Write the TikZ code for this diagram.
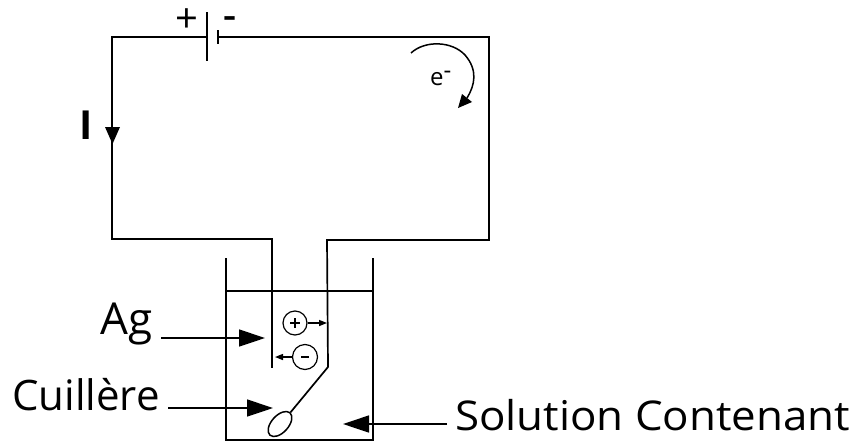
\documentclass[tikz,border=0pt]{standalone}
\usepackage{fontspec}
\setmainfont{Open Sans}
\usetikzlibrary{arrows.meta,shapes.geometric}
\tikzset{
  wire/.style={line width=1.7pt,black,line join=miter},
  plate/.style={line width=1.9pt,black},
  lbl/.style={inner sep=0pt,anchor=base west,text=black},
  big/.style={-{Triangle[length=26pt,width=17pt]},line width=1.4pt},
  small/.style={-{Triangle[length=8pt,width=6pt]},line width=1.4pt},
  ion/.style={circle,draw,line width=1.2pt,inner sep=0pt}
}
\begin{document}
\begin{tikzpicture}[x=1pt,y=-1pt]
\useasboundingbox (0,0) rectangle (858,442);
% circuit
\coordinate (tl) at (112,37);
\coordinate (pp) at (207,37);
\coordinate (pn) at (218,37);
\coordinate (tr) at (489,37);
\coordinate (br) at (489,240);
\coordinate (cr) at (327,240);
\coordinate (crd) at (328,367);
\coordinate (bl) at (112,239);
\coordinate (al) at (272,239);
\coordinate (ald) at (272,368);
\node[ellipse,draw,line width=1.5pt,minimum width=30pt,minimum height=17pt,inner sep=0pt,rotate=48] (spoon) at (280,424) {};
\draw[wire] (pp) -- (tl) -- (bl) -- (al) -- (ald);
\draw[wire] (pn) -- (tr) -- (br) -- (cr) -- (crd) -- (spoon.east);
\draw[plate] (207,12) -- (207,61);
\draw[plate] (218,30) -- (218,44);
\fill (105,127) -- (120,127) -- (112.5,144) -- cycle;
% beaker
\coordinate (bt1) at (226,258);
\coordinate (bb1) at (226,440);
\coordinate (bb2) at (373,440);
\coordinate (bt2) at (373,258);
\draw[wire] (bt1) -- (bb1) -- (bb2) -- (bt2);
\draw[wire] (226,291) -- (373,291);
% ions
\node[ion,minimum size=24pt] (ip) at (295,323) {};
\node[ion,minimum size=25pt] (im) at (305,357) {};
\draw[line width=1.2pt] (290,323) -- (300,323) (295,318) -- (295,328);
\draw[line width=1.4pt] (301,357) -- (309,357);
\coordinate (ipe) at (327,323);
\coordinate (ime) at (275,357);
\draw[small] (ip) -- (ipe);
\draw[small] (im) -- (ime);
% labels
\node[lbl,font=\fontsize{40}{40}\selectfont] (plus) at (175,32) {+};
\node[lbl,font=\bfseries\fontsize{30}{30}\selectfont,xscale=1.3] (minus) at (223,26) {-};
\node[lbl,font=\bfseries\fontsize{40}{40}\selectfont] (I) at (79,139) {I};
\node[lbl,font=\fontsize{24}{24}\selectfont] (e) at (430,85) {e\raisebox{6.5pt}{-}};
\node[lbl,font=\fontsize{44}{44}\selectfont] (ag) at (100,334) {Ag};
\node[lbl,font=\fontsize{42}{42}\selectfont] (cu) at (12,410) {Cuillère};
\node[lbl,font=\fontsize{41}{41}\selectfont,xscale=1.07] (so) at (455,430) {Solution Contenant};
% e- arrow
\coordinate (ea) at (411,53);
\coordinate (eb) at (458,108);
\draw[line width=1.5pt] (ea) .. controls (425,40) and (452,41) .. (465,55) .. controls (478,70) and (475,85) .. (467,98);
\fill (472,102) -- (462,94) -- (eb) -- cycle;
% pointers
\coordinate (aga) at (161,338);
\coordinate (agb) at (265,338);
\coordinate (cua) at (168,408);
\coordinate (cub) at (273,408);
\coordinate (soa) at (447,424);
\coordinate (sob) at (343,424);
\draw[big] (aga) -- (agb);
\draw[big] (cua) -- (cub);
\draw[big] (soa) -- (sob);
\end{tikzpicture}
\end{document}
